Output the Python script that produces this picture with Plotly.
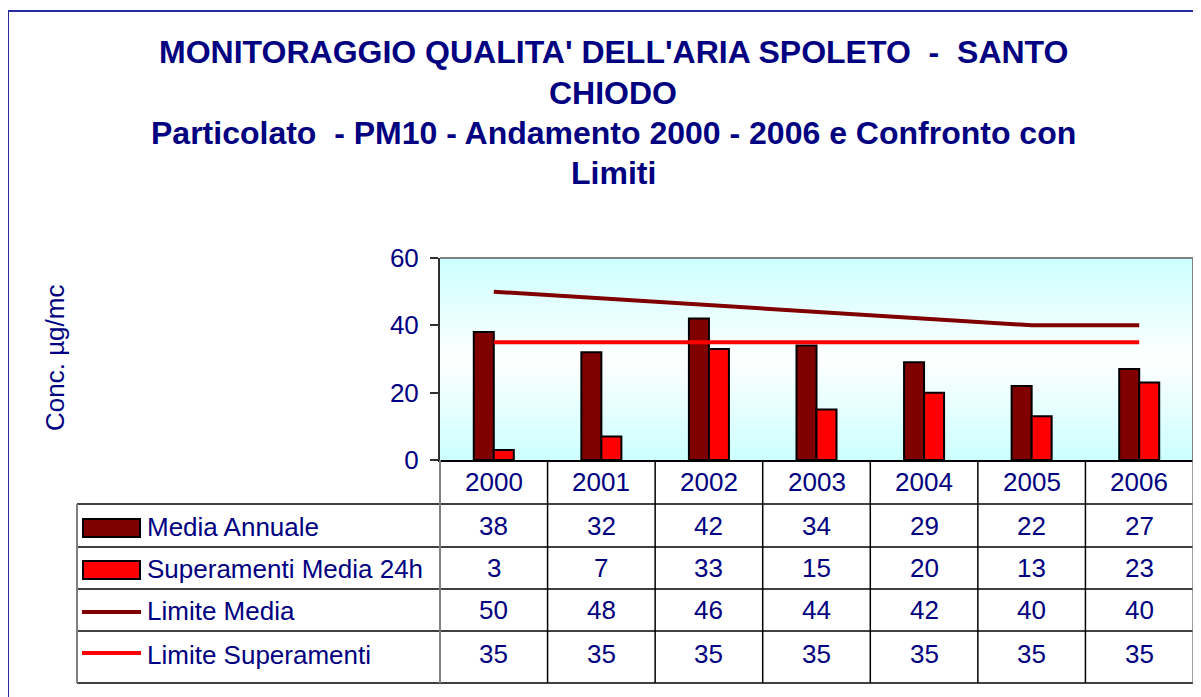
import plotly.graph_objects as go

# ---- data ----
years = ["2000", "2001", "2002", "2003", "2004", "2005", "2006"]
media_annuale = [38, 32, 42, 34, 29, 22, 27]
superamenti_24h = [3, 7, 33, 15, 20, 13, 23]
limite_media = [50, 48, 46, 44, 42, 40, 40]
limite_superamenti = [35, 35, 35, 35, 35, 35, 35]
series_names = ["Media Annuale", "Superamenti Media 24h", "Limite Media", "Limite Superamenti"]
y_ticks = [0, 20, 40, 60]

title_lines = [
    "MONITORAGGIO QUALITA' DELL'ARIA SPOLETO  -  SANTO",
    "CHIODO",
    "Particolato  - PM10 - Andamento 2000 - 2006 e Confronto con",
    "Limiti",
]
y_title = "Conc. µg/mc"

# ---- style ----
W, H = 1201, 697
OFF = 8  # page body offset
SL, ST, SR, SB = 440, 258, 1193, 460  # plot area in screen pixels
L, T = SL - OFF, ST - OFF
R = W - (SR - OFF)
B = H - (SB - OFF)
PW, PH = SR - SL, SB - ST
NAVY = "#000080"
DARK = "#800000"
RED = "#ff0000"
FONT = "Liberation Sans, Arial, sans-serif"


def pxx(x):
    return (x - SL) / PW


def pxy(y):
    return (SB - y) / PH


xs = list(range(len(years)))

fig = go.Figure()
fig.add_trace(go.Bar(x=xs, y=media_annuale, name=series_names[0],
                     marker=dict(color=DARK, line=dict(color="black", width=2))))
fig.add_trace(go.Bar(x=xs, y=superamenti_24h, name=series_names[1],
                     marker=dict(color=RED, line=dict(color="black", width=2))))
fig.add_trace(go.Scatter(x=xs, y=limite_media, name=series_names[2], mode="lines",
                         line=dict(color=DARK, width=4)))
fig.add_trace(go.Scatter(x=xs, y=limite_superamenti, name="Limite Superamenti Media 24h",
                         mode="lines", line=dict(color=RED, width=4)))

shapes = []
# gradient background (cyan - white - cyan)
N = 80
for i in range(N):
    t = (i + 0.5) / N
    d = abs(t - 0.5) * 2
    g = int(255 - (255 - 204) * d)
    shapes.append(dict(type="rect", xref="paper", yref="paper", x0=0, x1=1,
                       y0=i / N, y1=(i + 1) / N + 0.002, layer="below",
                       fillcolor=f"rgb({g},255,255)", line=dict(width=0)))
# plot border top/right gray
shapes.append(dict(type="line", xref="paper", yref="paper", x0=0, x1=1, y0=1, y1=1,
                   line=dict(color="#808080", width=2)))
shapes.append(dict(type="line", xref="paper", yref="paper", x0=1, x1=1, y0=0, y1=1,
                   line=dict(color="#808080", width=2)))

# outer frame
shapes.append(dict(type="line", xref="paper", yref="paper", x0=pxx(8), x1=pxx(8),
                   y0=pxy(11), y1=pxy(H + 20), line=dict(color="#2a2aa0", width=2)))
shapes.append(dict(type="line", xref="paper", yref="paper", x0=pxx(8), x1=pxx(W + 20),
                   y0=pxy(11), y1=pxy(11), line=dict(color="#2a2aa0", width=2)))

# data table grid
row_edges = [504, 547, 589, 631, 683]
for yy in row_edges:
    shapes.append(dict(type="line", xref="paper", yref="paper", x0=pxx(77), x1=1,
                       y0=pxy(yy), y1=pxy(yy), line=dict(color="black", width=1.5)))
shapes.append(dict(type="line", xref="paper", yref="paper", x0=pxx(77), x1=pxx(77),
                   y0=pxy(504), y1=pxy(683), line=dict(color="#808080", width=2)))
shapes.append(dict(type="line", xref="paper", yref="paper", x0=0, x1=0,
                   y0=pxy(460), y1=pxy(683), line=dict(color="#808080", width=2)))
for k in range(1, len(years) + 1):
    shapes.append(dict(type="line", xref="x", yref="paper", x0=k - 0.5, x1=k - 0.5,
                       y0=pxy(460), y1=pxy(683),
                       line=dict(color="#808080" if k == len(years) else "black", width=1.5)))
# legend keys
shapes.append(dict(type="rect", xref="paper", yref="paper", x0=pxx(83), x1=pxx(140),
                   y0=pxy(537), y1=pxy(519), fillcolor=DARK, line=dict(color="black", width=2)))
shapes.append(dict(type="rect", xref="paper", yref="paper", x0=pxx(83), x1=pxx(140),
                   y0=pxy(579), y1=pxy(561), fillcolor=RED, line=dict(color="black", width=2)))
shapes.append(dict(type="line", xref="paper", yref="paper", x0=pxx(82), x1=pxx(141),
                   y0=pxy(612), y1=pxy(612), line=dict(color=DARK, width=4)))
shapes.append(dict(type="line", xref="paper", yref="paper", x0=pxx(82), x1=pxx(141),
                   y0=pxy(653), y1=pxy(653), line=dict(color=RED, width=4)))

annotations = []
# title, one annotation per line
title_centers = [52, 93, 133, 173]
for line, yc in zip(title_lines, title_centers):
    annotations.append(dict(xref="paper", yref="paper", x=pxx(613), y=pxy(yc),
                            xanchor="center", yanchor="middle", showarrow=False,
                            text="<b>" + line + "</b>",
                            font=dict(family=FONT, size=32, color=NAVY)))
# y axis title
annotations.append(dict(xref="paper", yref="paper", x=pxx(55), y=pxy(358), textangle=-90,
                        showarrow=False, text=y_title, xanchor="center", yanchor="middle",
                        font=dict(family=FONT, size=26, color=NAVY)))
# table text
for i, yr in enumerate(years):
    annotations.append(dict(xref="x", yref="paper", x=i, y=pxy(482), showarrow=False,
                            xanchor="center", yanchor="middle",
                            text=yr, font=dict(family=FONT, size=26, color=NAVY)))
rows = [media_annuale, superamenti_24h, limite_media, limite_superamenti]
row_centers = [526, 568, 610, 654]
label_texts = ["Media Annuale", "Superamenti Media 24h", "Limite Media", "Limite Superamenti"]
for vals, yc, lab in zip(rows, row_centers, label_texts):
    annotations.append(dict(xref="paper", yref="paper", x=pxx(145), y=pxy(yc + 1),
                            xanchor="left", yanchor="middle",
                            showarrow=False, text=lab,
                            font=dict(family=FONT, size=26, color=NAVY)))
    for i, v in enumerate(vals):
        annotations.append(dict(xref="x", yref="paper", x=i, y=pxy(yc), showarrow=False,
                                xanchor="center", yanchor="middle",
                                text=str(v), font=dict(family=FONT, size=26, color=NAVY)))

fig.update_layout(
    width=W, height=H,
    margin=dict(l=L, r=R, t=T, b=B),
    paper_bgcolor="white", plot_bgcolor="rgba(0,0,0,0)",
    barmode="group", bargap=0.628, bargroupgap=0,
    showlegend=False,
    shapes=shapes, annotations=annotations,
    font=dict(family=FONT, color=NAVY),
    xaxis=dict(range=[-0.5, len(years) - 0.5], showticklabels=False, ticks="", showgrid=False,
               showline=True, linecolor="black", linewidth=2, zeroline=False, fixedrange=True),
    yaxis=dict(range=[0, 60], tickvals=y_ticks, showgrid=False, zeroline=False,
               showline=True, linecolor="#303030", linewidth=2,
               ticks="outside", ticklen=8, tickcolor="#303030", tickwidth=1.5,
               ticklabelstandoff=6,
               tickfont=dict(family=FONT, size=26, color=NAVY)),
)

fig.write_html("out.html")
